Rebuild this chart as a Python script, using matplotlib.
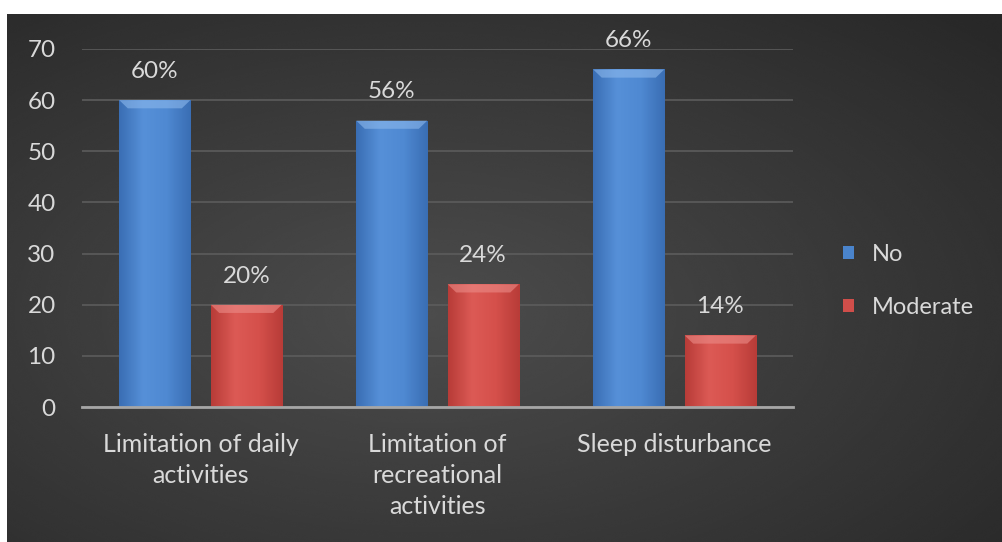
import numpy as np
import matplotlib
matplotlib.use("Agg")
from matplotlib import pyplot as plt
from matplotlib.colors import LinearSegmentedColormap

plt.rcParams['font.family'] = ['Lato', 'DejaVu Sans']

categories = ["Limitation of daily\nactivities", "Limitation of\nrecreational\nactivities", "Sleep disturbance"]
no_values = [60, 56, 66]
moderate_values = [20, 24, 14]
series_names = ["No", "Moderate"]
y_ticks = [0, 10, 20, 30, 40, 50, 60, 70]

txt = '#d9d9d9'

fig = plt.figure(figsize=(10.03, 5.42), dpi=100)
fig.patch.set_facecolor('white')

# dark radial background panel
bg = fig.add_axes([0.007, 0.0, 0.993, 0.974])
bg.set_axis_off()
yy, xx = np.mgrid[0:300, 0:550]
cx, cy = 230, 170
r = np.sqrt(((xx - cx) / 550.0) ** 2 + ((yy - cy) / 300.0) ** 2)
shade = np.clip(0.30 - 0.18 * r, 0.16, 0.30)
bg.imshow(shade, cmap='gray', vmin=0, vmax=1, aspect='auto', extent=[0, 1, 0, 1], interpolation='bicubic')
bg.set_xlim(0, 1)
bg.set_ylim(0, 1)

ax = fig.add_axes([0.0818, 0.249, 0.7088, 0.6606])
ax.set_facecolor('none')
x = np.arange(len(categories))
w = 0.30
off = 0.193

blue_map = LinearSegmentedColormap.from_list('b', ['#3a6eb4', '#5690d8', '#4f89d2', '#3a6eb4'])
red_map = LinearSegmentedColormap.from_list('r', ['#b83c38', '#dc5a55', '#d5504b', '#b83c38'])

def shaded(bars, cmap, top_col):
    grad = np.linspace(0, 1, 64).reshape(1, -1)
    for b in bars:
        x0, y0 = b.get_x(), b.get_y()
        bw, bh = b.get_width(), b.get_height()
        im = ax.imshow(grad, cmap=cmap, aspect='auto', extent=[x0, x0 + bw, y0, y0 + bh], zorder=3)
        im.set_clip_path(b)
        # bevelled top edge
        ax.fill([x0, x0 + bw, x0 + bw * 0.88, x0 + bw * 0.12],
                [y0 + bh, y0 + bh, y0 + bh - 1.6, y0 + bh - 1.6],
                color=top_col, alpha=0.6, zorder=4, lw=0)

b1 = ax.bar(x - off, no_values, w, color='#4a84cc', zorder=2, label=series_names[0])
b2 = ax.bar(x + off, moderate_values, w, color='#d04e4a', zorder=2, label=series_names[1])
shaded(b1, blue_map, '#8cb8ec')
shaded(b2, red_map, '#ec8c88')

for bars, vals in ((b1, no_values), (b2, moderate_values)):
    for b, v in zip(bars, vals):
        ax.text(b.get_x() + b.get_width() / 2, v + 5.6, f"{v}%", ha='center', va='center',
                color=txt, fontsize=17.5)

ax.set_xlim(-0.5, 2.5)
ax.set_ylim(0, 70)
ax.set_yticks(y_ticks)
ax.set_xticks(x)
ax.set_xticklabels(categories, linespacing=1.42)
ax.tick_params(axis='y', length=0, pad=19, labelcolor=txt, labelsize=17.5)
ax.tick_params(axis='x', length=0, pad=19, labelcolor=txt, labelsize=18)
ax.grid(axis='y', color='#5c5c5c', lw=1.2, zorder=0)
for s in ['top', 'right', 'left']:
    ax.spines[s].set_visible(False)
ax.spines['bottom'].set_color('#a6a6a6')
ax.spines['bottom'].set_linewidth(2)
ax.spines['bottom'].set_zorder(5)

leg = ax.legend(loc='center left', bbox_to_anchor=(1.04, 0.352), frameon=False,
                handlelength=0.5, handleheight=0.5, labelspacing=1.35, handletextpad=0.75,
                fontsize=17)
for t in leg.get_texts():
    t.set_color(txt)

fig.savefig('out.png', dpi=100, facecolor=fig.get_facecolor())
